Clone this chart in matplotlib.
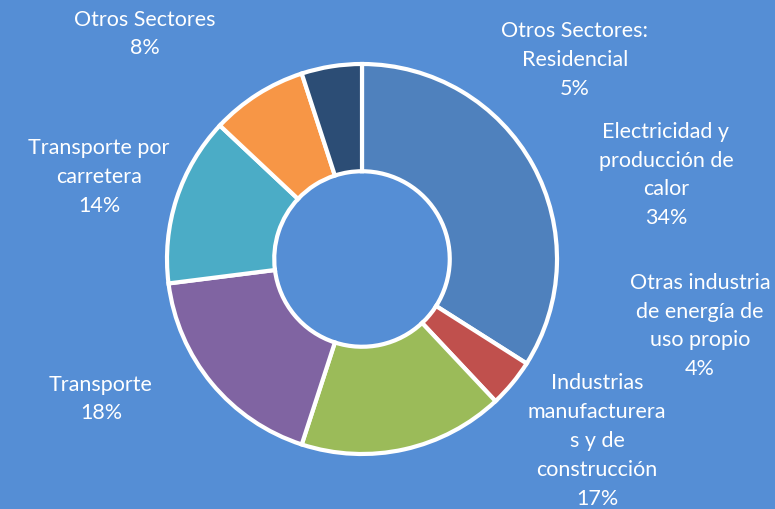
import matplotlib

matplotlib.use("Agg")
import matplotlib.pyplot as plt

# sector shares (%), clockwise from 12 o'clock
sectores = [
    "Electricidad y\nproducción de\ncalor",
    "Otras industria\nde energía de\nuso propio",
    "Industrias\nmanufacturera\ns y de\nconstrucción",
    "Transporte",
    "Transporte por\ncarretera",
    "Otros Sectores",
    "Otros Sectores:\nResidencial",
]
porcentajes = [34, 4, 17, 18, 14, 8, 5]
colores = ["#4f81bd", "#c0504d", "#9bbb59", "#8064a2", "#4bacc6", "#f79646", "#2c4d75"]

# label anchor positions in pixels (x, y from top)
posiciones = [(666, 175), (700, 326), (597, 441), (101, 399), (99, 177), (145, 34), (575, 60)]

fondo = "#558ed5"
W, H = 775, 510

plt.rcParams["font.family"] = ["Lato", "DejaVu Sans"]

fig = plt.figure(figsize=(W / 100, H / 100), dpi=100, facecolor=fondo)
ax = fig.add_axes([0, 0, 1, 1])
ax.set_facecolor(fondo)

cx, cy, radio = 362, H - 260, 195
ax.pie(
    porcentajes,
    colors=colores,
    startangle=90,
    counterclock=False,
    center=(cx, cy),
    radius=radio,
    wedgeprops=dict(width=radio * 0.55, edgecolor="white", linewidth=3),
)

for nombre, pct, (x, y) in zip(sectores, porcentajes, posiciones):
    ax.text(x, H - y, f"{nombre}\n{pct}%", ha="center", va="center",
            color="white", fontsize=15.5, linespacing=1.55)

ax.set_xlim(0, W)
ax.set_ylim(0, H)
ax.set_aspect("equal")
ax.axis("off")

fig.savefig("out.png", dpi=100, facecolor=fondo)
